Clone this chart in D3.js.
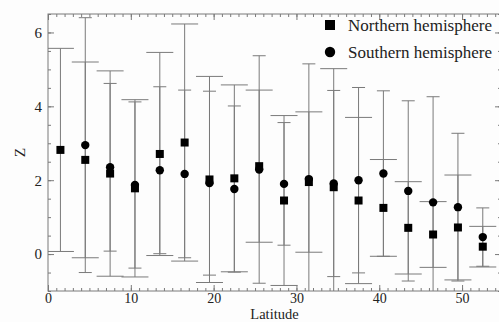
<!DOCTYPE html>
<html>
<head>
<meta charset="utf-8">
<script src="https://cdn.jsdelivr.net/npm/d3@7"></script>
<style>
  body { margin: 0; background: #fdfdfd; }
  svg { display: block; }
  .tick text { font-family: "Liberation Serif", "Times New Roman", serif; font-size: 14px; fill: #222; }
</style>
</head>
<body>
<svg id="chart" width="499" height="322"></svg>
<script>
// latitude bins (centres)
const latitude = [1.5, 4.5, 7.5, 10.5, 13.5, 16.5, 19.5, 22.5, 25.5, 28.5, 31.5, 34.5, 37.5, 40.5, 43.5, 46.5, 49.5, 52.5];
// Northern hemisphere: mean Z and error half-width
const northZ   = [2.82, 2.55, 2.18, 1.78, 2.71, 3.02, 2.02, 2.05, 2.38, 1.45, 1.95, 1.81, 1.45, 1.25, 0.71, 0.53, 0.72, 0.20];
const northErr = [2.75, 2.65, 2.78, 2.40, 2.75, 3.21, 2.79, 2.53, 2.06, 2.30, 1.90, 3.21, 2.25, 1.31, 1.25, 0.89, 1.42, 0.55];
// Southern hemisphere (no value in the first bin)
const southZ   = [null, 2.95, 2.35, 1.87, 2.27, 2.17, 1.92, 1.76, 2.29, 1.90, 2.03, 1.91, 2.00, 2.18, 1.71, 1.40, 1.27, 0.46];
const southErr = [null, 3.45, 2.27, 2.25, 2.26, 2.27, 2.49, 2.25, 3.08, 1.66, 3.12, 2.52, 2.51, 2.24, 2.44, 2.86, 2.00, 0.79];

const xMajor = [0, 10, 20, 30, 40, 50];
const yMajor = [0, 2, 4, 6];
const legendLabels = ['Northern hemisphere', 'Southern hemisphere'];

const plotLeft = 48, plotRight = 501, plotTop = 14, plotBottom = 291;
const axisColor = '#7a7a7a';
const serif = '"Liberation Serif", "Times New Roman", serif';

const svg = d3.select('#chart');

const x = d3.scaleLinear().domain([0, 54.7]).range([plotLeft, plotRight]);
const y = d3.scaleLinear().domain([-1, 6.5]).range([plotBottom, plotTop]);

const xMinor = d3.range(0, 55, 1);
const yMinor = d3.range(-1, 6.51, 0.5);

// clip for the data area
svg.append('clipPath').attr('id', 'plotClip')
  .append('rect')
  .attr('x', plotLeft).attr('y', plotTop)
  .attr('width', plotRight - plotLeft).attr('height', plotBottom - plotTop);

function styleAxis(g) {
  g.select('.domain').remove();
  g.selectAll('.tick line').attr('stroke', axisColor);
}

// minor ticks on all four sides
svg.append('g').attr('transform', 'translate(0,' + plotBottom + ')')
  .call(d3.axisBottom(x).tickValues(xMinor).tickSizeInner(-3).tickSizeOuter(0).tickFormat(''))
  .call(styleAxis);
svg.append('g').attr('transform', 'translate(0,' + plotTop + ')')
  .call(d3.axisTop(x).tickValues(xMinor).tickSizeInner(-3).tickSizeOuter(0).tickFormat(''))
  .call(styleAxis);
svg.append('g').attr('transform', 'translate(' + plotLeft + ',0)')
  .call(d3.axisLeft(y).tickValues(yMinor).tickSizeInner(-3).tickSizeOuter(0).tickFormat(''))
  .call(styleAxis);
svg.append('g').attr('transform', 'translate(' + plotRight + ',0)')
  .call(d3.axisRight(y).tickValues(yMinor).tickSizeInner(-3).tickSizeOuter(0).tickFormat(''))
  .call(styleAxis);

// major ticks
svg.append('g').attr('transform', 'translate(0,' + plotBottom + ')')
  .call(d3.axisBottom(x).tickValues(xMajor).tickSizeInner(-6).tickSizeOuter(0).tickPadding(2))
  .call(styleAxis);
svg.append('g').attr('transform', 'translate(0,' + plotTop + ')')
  .call(d3.axisTop(x).tickValues(xMajor).tickSizeInner(-6).tickSizeOuter(0).tickFormat(''))
  .call(styleAxis);
svg.append('g').attr('transform', 'translate(' + plotLeft + ',0)')
  .call(d3.axisLeft(y).tickValues(yMajor).tickSizeInner(-6).tickSizeOuter(0).tickPadding(6))
  .call(styleAxis)
  .selectAll('.tick text').style('font-size', '15px');
svg.append('g').attr('transform', 'translate(' + plotRight + ',0)')
  .call(d3.axisRight(y).tickValues(yMajor).tickSizeInner(-6).tickSizeOuter(0).tickFormat(''))
  .call(styleAxis);

// frame
svg.append('rect')
  .attr('x', plotLeft).attr('y', plotTop)
  .attr('width', plotRight - plotLeft).attr('height', plotBottom - plotTop)
  .attr('fill', 'none').attr('stroke', axisColor);

const north = latitude.map((d, i) => ({ lat: d, z: northZ[i], err: northErr[i] }));
const south = latitude.map((d, i) => ({ lat: d, z: southZ[i], err: southErr[i] }))
  .filter(d => d.z !== null);

const plot = svg.append('g').attr('clip-path', 'url(#plotClip)');

function errorBars(data, capHalf) {
  const g = plot.append('g').attr('stroke', axisColor).attr('stroke-width', 1);
  g.selectAll('line.stem').data(data).enter().append('line')
    .attr('x1', d => x(d.lat)).attr('x2', d => x(d.lat))
    .attr('y1', d => y(d.z + d.err)).attr('y2', d => y(d.z - d.err));
  g.selectAll('line.capTop').data(data).enter().append('line')
    .attr('x1', d => x(d.lat) - capHalf).attr('x2', d => x(d.lat) + capHalf)
    .attr('y1', d => y(d.z + d.err)).attr('y2', d => y(d.z + d.err));
  g.selectAll('line.capBot').data(data).enter().append('line')
    .attr('x1', d => x(d.lat) - capHalf).attr('x2', d => x(d.lat) + capHalf)
    .attr('y1', d => y(d.z - d.err)).attr('y2', d => y(d.z - d.err));
}

errorBars(north, 13.5);
errorBars(south, 6.5);

plot.selectAll('rect.north').data(north).enter().append('rect')
  .attr('x', d => x(d.lat) - 4).attr('y', d => y(d.z) - 4)
  .attr('width', 8).attr('height', 8)
  .attr('fill', '#000');

plot.selectAll('circle.south').data(south).enter().append('circle')
  .attr('cx', d => x(d.lat)).attr('cy', d => y(d.z))
  .attr('r', 4.2)
  .attr('fill', '#000');

// axis titles
svg.append('text')
  .attr('x', (plotLeft + plotRight) / 2).attr('y', 318.9)
  .attr('text-anchor', 'middle')
  .style('font-family', serif).style('font-size', '14.5px').style('fill', '#222')
  .text('Latitude');

svg.append('text')
  .attr('transform', 'translate(25,' + ((plotTop + plotBottom) / 2) + ') rotate(-90)')
  .attr('text-anchor', 'middle')
  .style('font-family', serif).style('font-size', '15.5px').style('fill', '#222')
  .text('Z');

// legend
const legend = svg.append('g').attr('transform', 'translate(330,25)');
legend.append('rect').attr('x', -5).attr('y', -5).attr('width', 10).attr('height', 10).attr('fill', '#000');
legend.append('circle').attr('cx', 0).attr('cy', 27).attr('r', 5.2).attr('fill', '#000');
legend.selectAll('text').data(legendLabels).enter().append('text')
  .attr('x', 18).attr('y', (d, i) => 6 + i * 27)
  .style('font-family', serif).style('font-size', '17px').style('fill', '#222')
  .text(d => d);
</script>
</body>
</html>
